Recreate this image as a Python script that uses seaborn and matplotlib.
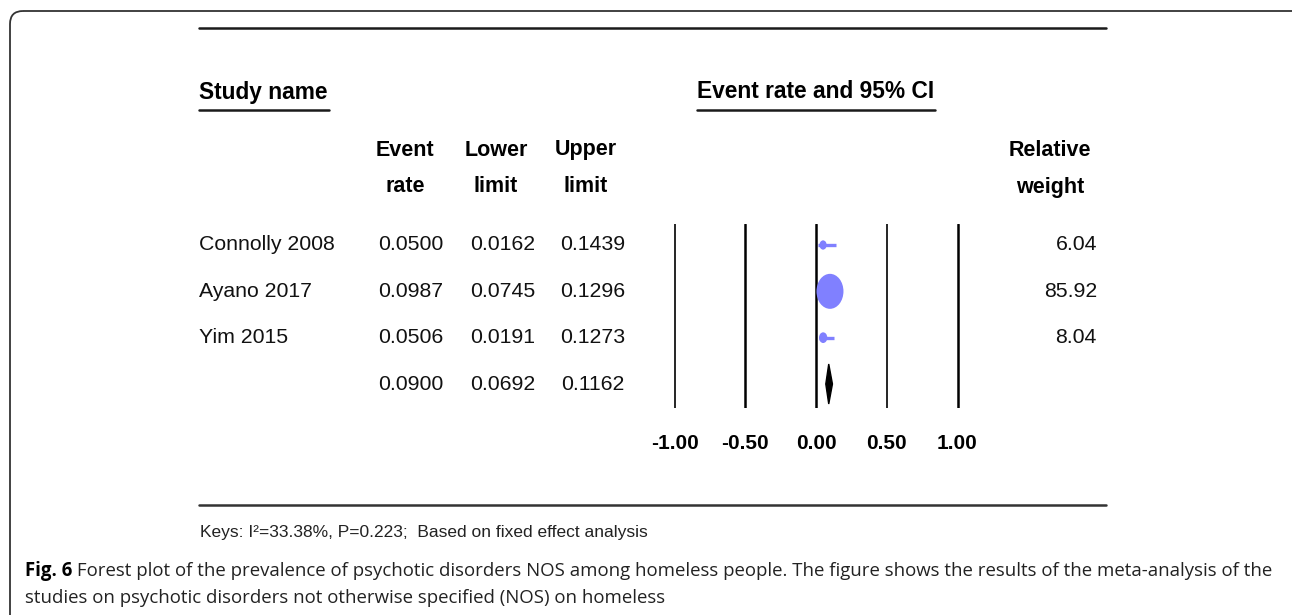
import numpy as np
import pandas as pd
import matplotlib
matplotlib.use("Agg")
import matplotlib.pyplot as plt
import seaborn as sns
from matplotlib.patches import FancyBboxPatch
from matplotlib.path import Path
from matplotlib import transforms
from matplotlib import font_manager

# ---------------- data ----------------
studies = ["Connolly 2008", "Ayano 2017", "Yim 2015"]
event_rate = [0.0500, 0.0987, 0.0506]
lower_limit = [0.0162, 0.0745, 0.0191]
upper_limit = [0.1439, 0.1296, 0.1273]
relative_weight = [6.04, 85.92, 8.04]
summary_rate = 0.0900
summary_lower = 0.0692
summary_upper = 0.1162
axis_ticks = [-1.0, -0.5, 0.0, 0.5, 1.0]
axis_tick_labels = ["-1.00", "-0.50", "0.00", "0.50", "1.00"]
keys_text = "Keys: I\u00b2=33.38%, P=0.223;  Based on fixed effect analysis"
caption_bold = "Fig. 6"
caption_line1 = (" Forest plot of the prevalence of psychotic disorders NOS among homeless "
                 "people. The figure shows the results of the meta-analysis of the")
caption_line2 = "studies on psychotic disorders not otherwise specified (NOS) on homeless"

# ---------------- style ----------------
W, H = 1292, 615
sns.set_theme(style="white")
plt.rcParams['font.family'] = ['Liberation Sans', 'DejaVu Sans']
names = {f.name for f in font_manager.fontManager.ttflist}
narrow = ['Liberation Sans Narrow', 'Liberation Sans', 'DejaVu Sans'] if 'Liberation Sans Narrow' in names \
    else ['Liberation Sans', 'DejaVu Sans']
cap_font = ['Open Sans', 'DejaVu Sans']
blue = '#8080ff'

fig = plt.figure(figsize=(W / 100, H / 100), dpi=100)
fig.patch.set_facecolor('white')

# layout layer in pixel units
lay = fig.add_axes([0, 0, 1, 1])
lay.set_xlim(0, W)
lay.set_ylim(H, 0)
lay.axis('off')

# ---------------- forest axes ----------------
x0_px, x1_px = 640, 995
unit = (957.5 - 674.5) / 2.0
zero_px = 816
top_px, bot_px = 224, 408
row_px = [245, 291, 338, 384]
row_step = (row_px[-1] - row_px[0]) / 3.0
ax = fig.add_axes([x0_px / W, 1 - bot_px / H, (x1_px - x0_px) / W, (bot_px - top_px) / H])
ax.set_xlim((x0_px - zero_px) / unit, (x1_px - zero_px) / unit)
ax.set_ylim(3 + (bot_px - row_px[-1]) / row_step, -(row_px[0] - top_px) / row_step)
ax.patch.set_alpha(0)
for s in ax.spines.values():
    s.set_visible(False)
ax.set_yticks([])
ax.set_xticks(axis_ticks)
ax.set_xticklabels(axis_tick_labels, fontweight='bold', fontsize=15)
ax.tick_params(axis='x', length=0, pad=19, colors='black')

line_w = {-1.0: 1.2, -0.5: 1.8, 0.0: 1.8, 0.5: 1.2, 1.0: 1.8}
for t in axis_ticks:
    ax.axvline(t, color='black', lw=line_w.get(t, 1.6), zorder=1)

df = pd.DataFrame({'study': studies, 'rate': event_rate, 'lo': lower_limit,
                   'hi': upper_limit, 'w': relative_weight, 'row': np.arange(len(studies))})

ax.hlines(df['row'], df['lo'], df['hi'], color=blue, lw=2.4, zorder=2)
ellipse = Path.unit_circle().transformed(transforms.Affine2D().scale(27 / 35, 1))
sns.scatterplot(data=df, x='rate', y='row', size='w', sizes=(0, 635), size_norm=(0, max(relative_weight)),
                marker=ellipse, color=blue, edgecolor='none', linewidth=0, legend=False, ax=ax, zorder=3)
ax.set_xlabel('')
ax.set_ylabel('')

h = 20 / row_step
ax.fill([summary_lower, summary_rate, summary_upper, summary_rate],
        [3, 3 - h, 3, 3 + h], color='black', zorder=3)

# ---------------- table text ----------------
trans = transforms.blended_transform_factory(lay.transData, ax.transData)
fs = 15.3
for i, r in df.iterrows():
    lay.text(199, r['row'], r['study'], transform=trans, ha='left', va='center', fontsize=fs, color='#111')
    lay.text(443, r['row'], f"{r['rate']:.4f}", transform=trans, ha='right', va='center', fontsize=fs, color='#111')
    lay.text(535, r['row'], f"{r['lo']:.4f}", transform=trans, ha='right', va='center', fontsize=fs, color='#111')
    lay.text(625, r['row'], f"{r['hi']:.4f}", transform=trans, ha='right', va='center', fontsize=fs, color='#111')
    lay.text(1097, r['row'], f"{r['w']:.2f}", transform=trans, ha='right', va='center', fontsize=fs, color='#111')
srow = len(studies)
lay.text(443, srow, f"{summary_rate:.4f}", transform=trans, ha='right', va='center', fontsize=fs, color='#111')
lay.text(535, srow, f"{summary_lower:.4f}", transform=trans, ha='right', va='center', fontsize=fs, color='#111')
lay.text(625, srow, f"{summary_upper:.4f}", transform=trans, ha='right', va='center', fontsize=fs, color='#111')

hfs = 15.5
lay.text(199, 92, "Study name", ha='left', va='center', fontsize=16.4, fontweight='bold', color='black')
lay.text(816, 92, "Event rate and 95% CI", ha='center', va='center', fontsize=16.4, fontweight='bold', color='black')
for xc, l1, l2 in [(405, "Event", "rate"), (496, "Lower", "limit"), (586, "Upper", "limit"),
                   (1050, "Relative", "weight")]:
    lay.text(xc, 150, l1, ha='center', va='center', fontsize=hfs, fontweight='bold', color='black')
    lay.text(xc, 187, l2, ha='center', va='center', fontsize=hfs, fontweight='bold', color='black')

# rules
lay.plot([199, 1106], [28, 28], color='#1a1a1a', lw=1.8)
lay.plot([199, 1106], [505, 505], color='#333333', lw=1.8)
lay.plot([199, 329], [110, 110], color='#1a1a1a', lw=1.8)
lay.plot([697, 935], [110, 110], color='#1a1a1a', lw=1.8)

# frame
frame = FancyBboxPatch((10, 11), 1400, 800, boxstyle="round,pad=0,rounding_size=13",
                       fc='none', ec='#333333', lw=1.3, transform=lay.transData)
lay.add_patch(frame)

# keys
lay.text(200, 533, keys_text, ha='left', va='center', fontsize=12.5, family=narrow, color='#222')

# caption
cfs = 13.4
tb = lay.text(25, 571, caption_bold, ha='left', va='center', fontsize=cfs, fontweight='bold',
              family=cap_font, color='black')
renderer = fig.canvas.get_renderer()
bb = tb.get_window_extent(renderer)
x_after = bb.x1 / fig.dpi * 100
lay.text(x_after, 571, caption_line1, ha='left', va='center', fontsize=cfs, family=cap_font, color='#222')
lay.text(25, 598, caption_line2, ha='left', va='center', fontsize=cfs, family=cap_font, color='#222')

fig.savefig('out.png', dpi=100, facecolor='white')
